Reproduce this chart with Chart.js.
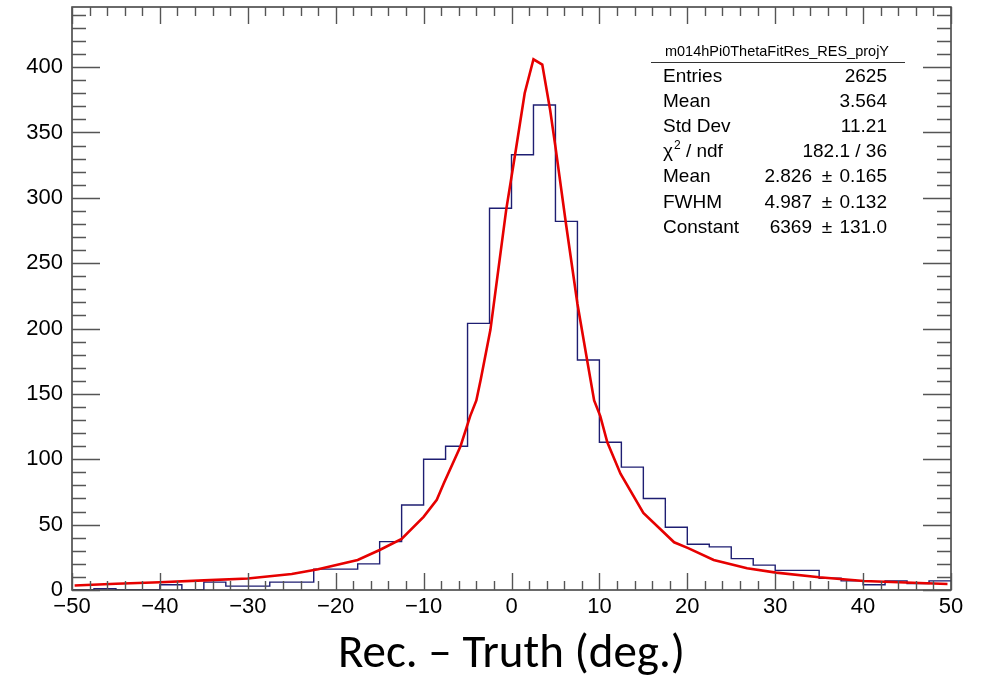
<!DOCTYPE html>
<html lang="en">

<head>
    <meta charset="utf-8">
    <title>m014hPi0ThetaFitRes_RES_projY</title>
    <script src="https://cdn.jsdelivr.net/npm/chart.js@4.4.0/dist/chart.umd.min.js"></script>
    <style>
        html, body {
            margin: 0;
            padding: 0;
            background: #ffffff;
        }

        #wrap {
            width: 984px;
            height: 683px;
        }
    </style>
</head>

<body>
    <div id="wrap">
        <canvas id="histChart" width="984" height="683"></canvas>
    </div>

<script>
    // histogram bins (low edges + last upper edge) and counts
    var binEdges = [-50, -47.5, -45, -42.5, -40, -37.5, -35, -32.5, -30, -27.5,
        -25, -22.5, -20, -17.5, -15, -12.5, -10, -7.5, -5, -2.5,
        0, 2.5, 5, 7.5, 10, 12.5, 15, 17.5, 20, 22.5,
        25, 27.5, 30, 32.5, 35, 37.5, 40, 42.5, 45, 47.5, 50];
    var binCounts = [0, 1, 0, 0, 4, 0, 6, 3, 3, 6,
        6, 16, 16, 20, 37, 65, 100, 110, 204, 292,
        333, 371, 282, 176, 113, 94, 70, 48, 35, 33,
        24, 19, 15, 15, 9, 7, 4, 7, 5, 7];

    // red fit curve
    var fitX = [-49.7, -45, -40, -35, -30, -25, -22, -17.5, -15, -12.5,
        -10, -8.5, -7.7, -5.8, -4.7, -4, -3.5, -2.4, -0.6, 0.5,
        1.5, 2.5, 3.5, 4.4, 5, 6.2, 7.5, 8.6, 9.4, 10.1,
        10.9, 12.4, 15, 18.5, 20.1, 23, 26.8, 30.1, 35, 40.1, 49.6];
    var fitY = [3.5, 4.8, 5.9, 7.4, 8.8, 12.2, 15.8, 23, 30.6, 39,
        56, 69, 81.6, 110, 133, 145, 161, 199, 291, 337,
        380, 406, 402, 367, 339, 280, 219, 176, 145, 133,
        113, 89, 59, 36.5, 32, 23, 16.6, 13.3, 9.7, 6.9, 4.6];

    var xTickValues = [-50, -40, -30, -20, -10, 0, 10, 20, 30, 40, 50];
    var yTickValues = [0, 50, 100, 150, 200, 250, 300, 350, 400];

    var statTitle = "m014hPi0ThetaFitRes_RES_projY";
    var statLabels = ["Entries", "Mean", "Std Dev", "chi2", "Mean", "FWHM", "Constant"];
    var statValues = ["2625", "3.564", "11.21", "182.1 / 36", "2.826", "4.987", "6369"];
    var statErrors = ["", "", "", "", "0.165", "0.132", "131.0"];

    var axisFont = "'Liberation Sans', Arial, Helvetica, sans-serif";

    let fmtTick = (v) => v < 0 ? "\u2212" + Math.abs(v) : String(v);

    // ROOT style frame with inward ticks on all four sides
    let frameTicks = {
        id: 'frameTicks',
        afterDatasetsDraw(chart) {
            let ctx = chart.ctx;
            let a = chart.chartArea;
            let xs = chart.scales.x;
            let ys = chart.scales.y;
            ctx.save();
            ctx.strokeStyle = '#3a3a3a';
            ctx.lineWidth = 1.5;
            ctx.strokeRect(a.left, a.top, a.right - a.left, a.bottom - a.top);

            ctx.strokeStyle = '#555555';
            ctx.lineWidth = 1.4;
            ctx.beginPath();
            for (let v = xs.min; v <= xs.max + 1e-6; v += 2) {
                let px = Math.round(xs.getPixelForValue(v)) + 0.5;
                let len = (Math.abs(v % 10) < 1e-6) ? 17 : 9;
                ctx.moveTo(px, a.bottom);
                ctx.lineTo(px, a.bottom - len);
                ctx.moveTo(px, a.top);
                ctx.lineTo(px, a.top + len);
            }
            for (let v = 0; v <= ys.max; v += 10) {
                let py = Math.round(ys.getPixelForValue(v)) + 0.5;
                let len = (v % 50 === 0) ? 28 : 14;
                ctx.moveTo(a.left, py);
                ctx.lineTo(a.left + len, py);
                ctx.moveTo(a.right, py);
                ctx.lineTo(a.right - len, py);
            }
            ctx.stroke();
            ctx.restore();
        }
    };

    // stats box in the top right corner
    let statsBox = {
        id: 'statsBox',
        afterDraw(chart) {
            let ctx = chart.ctx;
            ctx.save();
            ctx.fillStyle = '#000000';
            ctx.textBaseline = 'middle';
            ctx.font = "14.5px " + axisFont;
            ctx.textAlign = 'center';
            ctx.fillText(statTitle, 777, 52);

            ctx.strokeStyle = '#333333';
            ctx.lineWidth = 1.2;
            ctx.beginPath();
            ctx.moveTo(651, 62.5);
            ctx.lineTo(905, 62.5);
            ctx.stroke();

            let rowY = [77, 101.5, 127, 152, 177, 202.5, 228];
            statLabels.forEach((lab, i) => {
                ctx.font = "19px " + axisFont;
                ctx.textAlign = 'left';
                if (lab === "chi2") {
                    ctx.fillText("\u03c7", 663, rowY[i]);
                    let w = ctx.measureText("\u03c7").width;
                    ctx.font = "12px " + axisFont;
                    ctx.fillText("2", 663 + w + 1, rowY[i] - 6);
                    let w2 = ctx.measureText("2").width;
                    ctx.font = "19px " + axisFont;
                    ctx.fillText(" / ndf", 663 + w + w2 + 1, rowY[i]);
                } else {
                    ctx.fillText(lab, 663, rowY[i]);
                }
                ctx.textAlign = 'right';
                if (statErrors[i]) {
                    ctx.fillText(statValues[i], 812, rowY[i]);
                    ctx.textAlign = 'center';
                    ctx.fillText("\u00b1", 827, rowY[i]);
                    ctx.textAlign = 'right';
                    ctx.fillText(statErrors[i], 887, rowY[i]);
                } else {
                    ctx.fillText(statValues[i], 887, rowY[i]);
                }
            });
            ctx.restore();
        }
    };

    let histData = binEdges.map((e, i) => ({ x: e, y: binCounts[Math.min(i, binCounts.length - 1)] }));
    let fitData = fitX.map((x, i) => ({ x: x, y: fitY[i] }));

    let histChart = new Chart(document.getElementById('histChart'), {
        type: 'line',
        data: {
            datasets: [{
                label: 'fit',
                data: fitData,
                borderColor: '#e60000',
                borderWidth: 2.6,
                pointRadius: 0,
                tension: 0,
                fill: false,
                order: 0
            }, {
                label: 'hist',
                data: histData,
                borderColor: '#1e1e72',
                borderWidth: 1.4,
                pointRadius: 0,
                stepped: 'before',
                fill: false,
                order: 1
            }]
        },
        options: {
            responsive: false,
            animation: false,
            events: [],
            layout: {
                padding: { top: 7, right: 33, left: 0, bottom: 0 }
            },
            plugins: {
                legend: { display: false },
                tooltip: { enabled: false }
            },
            scales: {
                x: {
                    type: 'linear',
                    min: -50,
                    max: 50,
                    border: { display: false },
                    grid: { display: false, drawTicks: false },
                    afterBuildTicks: (scale) => {
                        scale.ticks = xTickValues.map(v => ({ value: v }));
                    },
                    afterFit: (scale) => {
                        scale.height = 93;
                        scale.paddingLeft = 0;
                        scale.paddingRight = 0;
                    },
                    ticks: {
                        autoSkip: false,
                        maxRotation: 0,
                        padding: 4,
                        color: '#000000',
                        font: { family: axisFont, size: 22 },
                        callback: (v) => fmtTick(v)
                    },
                    title: {
                        display: true,
                        text: 'Rec. \u2013 Truth (deg.)',
                        color: '#000000',
                        font: { family: "Carlito, Calibri, Lato, sans-serif", size: 47 },
                        padding: { top: 0, bottom: 0 }
                    }
                },
                y: {
                    type: 'linear',
                    min: 0,
                    max: 446,
                    border: { display: false },
                    grid: { display: false, drawTicks: false },
                    afterBuildTicks: (scale) => {
                        scale.ticks = yTickValues.map(v => ({ value: v }));
                    },
                    afterFit: (scale) => {
                        scale.width = 72;
                        scale.paddingTop = 0;
                        scale.paddingBottom = 0;
                    },
                    ticks: {
                        autoSkip: false,
                        padding: 9,
                        color: '#000000',
                        font: { family: axisFont, size: 22 },
                        callback: (v) => fmtTick(v)
                    }
                }
            }
        },
        plugins: [frameTicks, statsBox]
    });
</script>
</body>

</html>
